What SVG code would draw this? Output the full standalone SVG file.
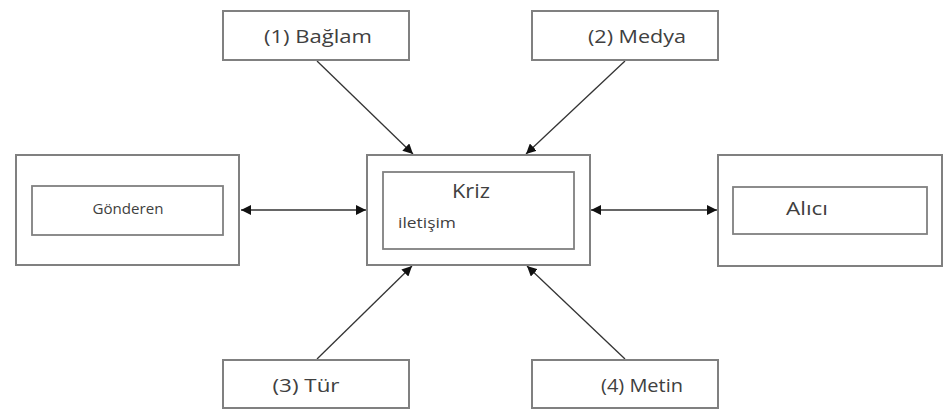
<svg xmlns="http://www.w3.org/2000/svg" width="947" height="410" viewBox="0 0 947 410">
<style>
.box{fill:#fff;stroke:#808080;stroke-width:2}
.in{fill:#fff;stroke:#808080;stroke-width:1.8}
.t{font-family:"Open Sans","Noto Sans",sans-serif;fill:#404040}
.lbl{font-size:19px}
.c{stroke:#333;stroke-width:1.3;fill:none}
</style>
<defs>
<marker id="ah" viewBox="0 0 10 10" refX="10" refY="5" markerWidth="10" markerHeight="10" markerUnits="userSpaceOnUse" orient="auto-start-reverse">
<path d="M0,0 L10,5 L0,10 z" fill="#111"/>
</marker>
</defs>
<rect width="947" height="410" fill="#fff"/>
<g id="connectors">
<line class="c" x1="241" y1="210" x2="366" y2="210" marker-start="url(#ah)" marker-end="url(#ah)"/>
<line class="c" x1="591" y1="210" x2="717" y2="210" marker-start="url(#ah)" marker-end="url(#ah)"/>
<line class="c" x1="317" y1="61" x2="413" y2="154" marker-end="url(#ah)"/>
<line class="c" x1="625" y1="61" x2="526" y2="154" marker-end="url(#ah)"/>
<line class="c" x1="317" y1="359" x2="412" y2="266" marker-end="url(#ah)"/>
<line class="c" x1="625" y1="359" x2="527" y2="266" marker-end="url(#ah)"/>
</g>
<g id="gonderen">
<rect class="box" x="16" y="155" width="223" height="110"/>
<rect class="in" x="32" y="186" width="191" height="49"/>
<text class="t" x="128" y="214" font-size="14" text-anchor="middle" textLength="71" lengthAdjust="spacingAndGlyphs">Gönderen</text>
</g>
<g id="kriz">
<rect class="box" x="367" y="155" width="223" height="110"/>
<rect class="in" x="383" y="172" width="191" height="77"/>
<text class="t" x="471" y="198" font-size="20" text-anchor="middle" textLength="38" lengthAdjust="spacingAndGlyphs">Kriz</text>
<text class="t" x="398" y="228" font-size="15" textLength="58" lengthAdjust="spacingAndGlyphs">iletişim</text>
</g>
<g id="alici">
<rect class="box" x="718" y="155" width="224" height="111"/>
<rect class="in" x="733" y="187" width="194" height="47"/>
<text class="t" x="807" y="215" font-size="18" text-anchor="middle" textLength="42" lengthAdjust="spacingAndGlyphs">Alıcı</text>
</g>
<g id="baglam">
<rect class="box" x="223" y="11" width="186" height="49"/>
<text class="t lbl" x="318" y="43" text-anchor="middle" textLength="108" lengthAdjust="spacingAndGlyphs">(1) Bağlam</text>
</g>
<g id="medya">
<rect class="box" x="532" y="11" width="186" height="49"/>
<text class="t lbl" x="637" y="43" text-anchor="middle" textLength="98" lengthAdjust="spacingAndGlyphs">(2) Medya</text>
</g>
<g id="tur">
<rect class="box" x="223" y="360" width="186" height="48"/>
<text class="t lbl" x="306" y="392" text-anchor="middle" textLength="67" lengthAdjust="spacingAndGlyphs">(3) Tür</text>
</g>
<g id="metin">
<rect class="box" x="532" y="360" width="186" height="48"/>
<text class="t lbl" x="642" y="392" text-anchor="middle" textLength="82" lengthAdjust="spacingAndGlyphs">(4) Metin</text>
</g>
</svg>
